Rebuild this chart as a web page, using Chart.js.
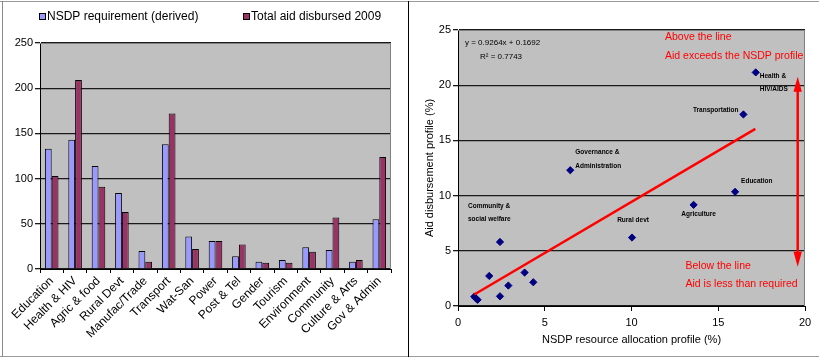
<!DOCTYPE html>
<html>
<head>
<meta charset="utf-8">
<script src="https://cdn.jsdelivr.net/npm/chart.js@4/dist/chart.umd.min.js"></script>
<style>
  html, body { margin: 0; padding: 0; background: #fff; }
  body { width: 819px; height: 358px; position: relative; overflow: hidden; font-family: 'Liberation Sans', Arial, sans-serif; }
  #c1 { position: absolute; left: 0; top: 0; }
  #c2 { position: absolute; left: 410px; top: 0; }
  .ln { position: absolute; }
</style>
</head>
<body>
<div class="ln" style="left:0;top:1px;width:819px;height:1px;background:#9a9a9a"></div>
<div class="ln" style="left:0;top:356px;width:819px;height:1px;background:#9a9a9a"></div>
<div class="ln" style="left:2px;top:1px;width:1px;height:356px;background:#8a8a8a"></div>
<div class="ln" style="left:408px;top:1px;width:1px;height:356px;background:#000"></div>
<canvas id="c1" width="408" height="356"></canvas>
<canvas id="c2" width="409" height="356"></canvas>
<script>
// ---------- Left chart data ----------
const categories = ['Education', 'Health & HIV', 'Agric & food', 'Rural Devt', 'Manufac/Trade', 'Transport', 'Wat-San', 'Power', 'Post & Tel', 'Gender', 'Tourism', 'Environment', 'Community', 'Culture & Arts', 'Gov & Admin'];
const nsdpRequirement = [133, 143, 114, 84, 20, 138, 36, 31, 14, 8, 10, 24, 21, 8, 55];
const aidDisbursed2009 = [103, 209, 91, 63, 8, 172, 22, 31, 27, 7, 7, 19, 57, 10, 124];
const barSeriesNames = ['NSDP requirement (derived)', 'Total aid disbursed 2009'];
const barTickValues = [0, 50, 100, 150, 200, 250];

// ---------- Right chart data ----------
const nsdpProfile = [17.16, 16.45, 15.97, 13.58, 6.47, 10.03, 2.42, 1.80, 3.84, 4.34, 2.90, 2.42, 0.94, 1.02, 1.13];
const aidProfile  = [21.16, 17.35, 10.34, 9.16, 12.30, 6.20, 5.80, 2.72, 3.03, 2.15, 1.85, 0.88, 0.85, 0.70, 0.56];
const pointNames  = ['Health &\nHIV/AIDS', 'Transportation', 'Education', 'Agriculture', 'Governance &\nAdministration', 'Rural devt', 'Community &\nsocial welfare', '', '', '', '', '', '', '', ''];
const trendX = [0.94, 17.14];
const trendY = [1.04, 16.05];
const scatterTicks = [0, 5, 10, 15, 20, 25];
const xTicks = [0, 5, 10, 15, 20];
const equationText = 'y = 0.9264x + 0.1692';
const r2Text = 'R\u00B2 = 0.7743';

const FONT = "'Liberation Sans', Arial, sans-serif";

// ---------- Plugins ----------
const plotBg = {
  id: 'plotBg',
  beforeDraw(chart) {
    const a = chart.chartArea, ctx = chart.ctx;
    ctx.save();
    ctx.fillStyle = '#C0C0C0';
    ctx.fillRect(a.left, a.top, a.right - a.left, a.bottom - a.top);
    ctx.restore();
  },
  afterDraw(chart) {
    const a = chart.chartArea, ctx = chart.ctx;
    ctx.save();
    ctx.strokeStyle = '#808080';
    ctx.lineWidth = 1;
    ctx.beginPath();
    ctx.moveTo(a.left, a.top + 0.5);
    ctx.lineTo(a.right - 0.5, a.top + 0.5);
    ctx.lineTo(a.right - 0.5, a.bottom);
    ctx.stroke();
    ctx.restore();
  }
};

const barLegend = {
  id: 'barLegend',
  afterDraw(chart) {
    const ctx = chart.ctx;
    ctx.save();
    ctx.font = '12px ' + FONT;
    ctx.textBaseline = 'middle';
    ctx.fillStyle = '#000';
    const items = [[39, chart.data.datasets[0]], [243, chart.data.datasets[1]]];
    items.forEach(([x, ds]) => {
      ctx.fillStyle = ds.backgroundColor;
      ctx.fillRect(x, 13, 6, 6);
      ctx.strokeStyle = '#000';
      ctx.lineWidth = 1;
      ctx.strokeRect(x + 0.5, 13.5, 6, 6);
      ctx.fillStyle = '#000';
      ctx.fillText(ds.label, x + 8, 17);
    });
    ctx.restore();
  }
};

new Chart(document.getElementById('c1'), {
  type: 'bar',
  data: {
    labels: categories,
    datasets: [
      { label: barSeriesNames[0], data: nsdpRequirement, backgroundColor: '#9999FF', borderColor: '#000', borderWidth: 1 },
      { label: barSeriesNames[1], data: aidDisbursed2009, backgroundColor: '#993366', borderColor: '#000', borderWidth: 1 }
    ]
  },
  options: {
    responsive: false,
    animation: false,
    layout: { padding: { left: 5, right: 17, top: 43, bottom: 2 } },
    plugins: { legend: { display: false }, tooltip: { enabled: false } },
    datasets: { bar: { categoryPercentage: 0.58, barPercentage: 1.0 } },
    scales: {
      x: {
        afterFit(s) { s.height = 356 - 269 - 2; },
        grid: { offset: true, drawOnChartArea: false, drawTicks: true, tickLength: 4, color: '#000' },
        border: { color: '#000', width: 1 },
        ticks: { autoSkip: false, maxRotation: 45, minRotation: 45, padding: 1, color: '#000', font: { family: FONT, size: 12 } }
      },
      y: {
        min: 0, max: 250,
        afterFit(s) { s.width = 35; },
        afterBuildTicks(s) { s.ticks = barTickValues.map(v => ({ value: v })); },
        grid: { color: '#1a1a1a', lineWidth: 1.3, tickLength: 5, drawTicks: true },
        border: { color: '#000', width: 1 },
        ticks: { padding: 2, color: '#000', font: { family: FONT, size: 11 } }
      }
    }
  },
  plugins: [plotBg, barLegend]
});

// ---------- Right chart ----------
const labelPlacement = {
  0: { dx: 4, dy: 4, align: 'left', lh: 13 },
  1: { dx: -5, dy: -4, align: 'right', lh: 13 },
  2: { dx: 6, dy: -11, align: 'left', lh: 13 },
  3: { dx: 5, dy: 9, align: 'center', lh: 13 },
  4: { dx: 5, dy: -18, align: 'left', lh: 14 },
  5: { dx: 1, dy: -17, align: 'center', lh: 13 },
  6: { dx: -32, dy: -36, align: 'left', lh: 13 }
};

const scatterDecor = {
  id: 'scatterDecor',
  afterDraw(chart) {
    const ctx = chart.ctx;
    const xs = chart.scales.x, ys = chart.scales.y;
    ctx.save();
    // point labels
    ctx.fillStyle = '#000';
    ctx.font = 'bold 6.5px ' + FONT;
    ctx.textBaseline = 'middle';
    pointNames.forEach((name, i) => {
      if (!name) return;
      const p = labelPlacement[i];
      const px = xs.getPixelForValue(nsdpProfile[i]);
      const py = ys.getPixelForValue(aidProfile[i]);
      ctx.textAlign = p.align;
      name.split('\n').forEach((t, k) => ctx.fillText(t, px + p.dx, py + p.dy + k * p.lh));
    });
    // equation
    ctx.textAlign = 'left';
    ctx.font = '8px ' + FONT;
    ctx.fillText(equationText, 55, 43);
    ctx.fillText(r2Text, 70, 57);
    // red annotations
    ctx.fillStyle = '#FF0000';
    ctx.font = '10.5px ' + FONT;
    ctx.fillText('Above the line', 255, 37);
    ctx.fillText('Aid exceeds the NSDP profile', 255, 56);
    ctx.fillText('Below the line', 275.5, 266);
    ctx.fillText('Aid is less than required', 275.5, 284);
    // double arrow
    const ax = 387.7, top = 76.7, bot = 266.7, hl = 15, hw = 4.2;
    ctx.strokeStyle = '#FF0000';
    ctx.lineWidth = 2.5;
    ctx.beginPath();
    ctx.moveTo(ax, top + hl - 2);
    ctx.lineTo(ax, bot - hl + 2);
    ctx.stroke();
    ctx.beginPath();
    ctx.moveTo(ax, top); ctx.lineTo(ax - hw, top + hl); ctx.lineTo(ax + hw, top + hl); ctx.closePath();
    ctx.moveTo(ax, bot); ctx.lineTo(ax - hw, bot - hl); ctx.lineTo(ax + hw, bot - hl); ctx.closePath();
    ctx.fill();
    ctx.restore();
  }
};

new Chart(document.getElementById('c2'), {
  type: 'scatter',
  data: {
    datasets: [
      {
        type: 'line',
        data: trendX.map((x, i) => ({ x, y: trendY[i] })),
        borderColor: '#FF0000', borderWidth: 2.5, pointRadius: 0, showLine: true, fill: false, order: 0
      },
      {
        data: nsdpProfile.map((x, i) => ({ x, y: aidProfile[i] })),
        pointStyle: 'rectRot', pointRadius: 3.6,
        backgroundColor: '#000080', borderColor: '#000080', borderWidth: 1, order: 1
      }
    ]
  },
  options: {
    responsive: false,
    animation: false,
    layout: { padding: { left: 8, right: 14, top: 30, bottom: 5 } },
    plugins: { legend: { display: false }, tooltip: { enabled: false } },
    scales: {
      x: {
        type: 'linear', min: 0, max: 20,
        afterFit(s) { s.height = 356 - 306 - 5; },
        afterBuildTicks(s) { s.ticks = xTicks.map(v => ({ value: v })); },
        grid: { drawOnChartArea: false, drawTicks: true, tickLength: 5, color: '#000' },
        border: { color: '#000', width: 1 },
        ticks: { padding: 5, color: '#000', font: { family: FONT, size: 11 } },
        title: { display: true, text: 'NSDP resource allocation profile (%)', color: '#000', font: { family: FONT, size: 11 }, padding: { top: 2, bottom: 4 } }
      },
      y: {
        type: 'linear', min: 0, max: 25,
        afterFit(s) { s.width = 40; },
        afterBuildTicks(s) { s.ticks = scatterTicks.map(v => ({ value: v })); },
        grid: { color: '#1a1a1a', lineWidth: 1.3, tickLength: 5, drawTicks: true },
        border: { color: '#000', width: 1 },
        ticks: { padding: 2, color: '#000', font: { family: FONT, size: 11 } },
        title: { display: true, text: 'Aid disbursement profile (%)', color: '#000', font: { family: FONT, size: 11 }, padding: { top: 5, bottom: 2 } }
      }
    }
  },
  plugins: [plotBg, scatterDecor]
});
</script>
</body>
</html>
